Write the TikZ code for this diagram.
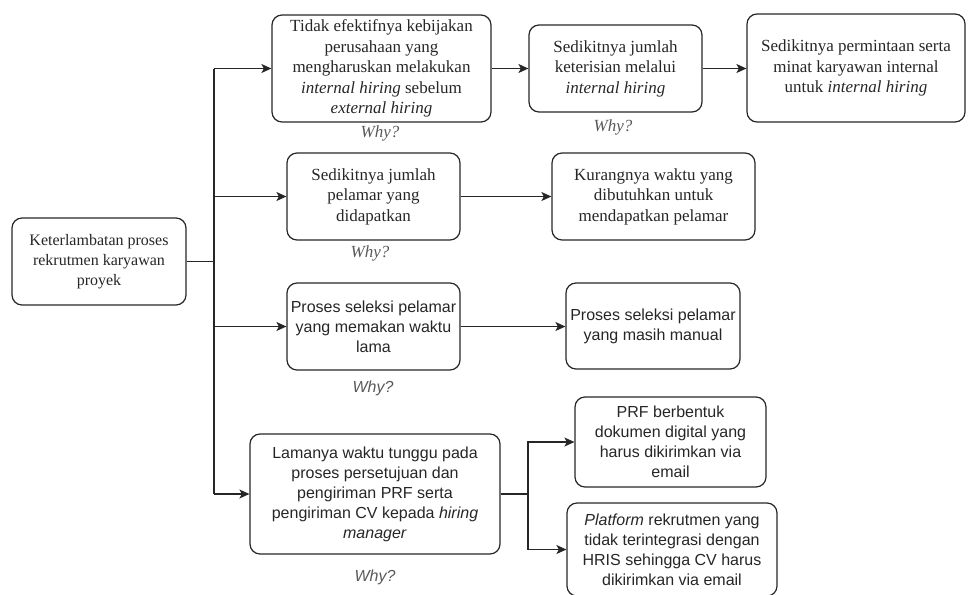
\documentclass[tikz,border=0pt]{standalone}
\usepackage{fontspec}
\setmainfont{Liberation Serif}
\setsansfont{Liberation Sans}
\usetikzlibrary{arrows.meta}
\newcommand\myfsr{\fontsize{17}{20.5}\selectfont}
\newcommand\myfsroot{\fontsize{16}{20}\selectfont}
\newcommand\myfss{\fontsize{16}{20}\selectfont}
\begin{document}
\begin{tikzpicture}[x=1pt,y=-1pt,
  box/.style={draw=black!85, rounded corners=10pt, line width=1.2pt, align=center, inner sep=0pt, text=black!85},
  sbox/.style={box, font=\myfsr\rmfamily},
  abox/.style={box, font=\myfss\sffamily},
  whyr/.style={font=\myfsr\rmfamily\itshape, text=black!65},
  whys/.style={font=\myfss\sffamily\itshape, text=black!65},
  conn/.style={line width=1.3pt, draw=black!85},
  arr/.style={conn, -{Stealth[length=10pt,width=9pt,inset=2.5pt]}}]
\useasboundingbox (0,0) rectangle (968,594);

\node[sbox, font=\myfsroot\rmfamily, minimum width=174pt, minimum height=87pt] (root) at (99,261.5)
  {Keterlambatan proses\\rekrutmen karyawan\\proyek};

\node[sbox, minimum width=219pt, minimum height=107pt] (A) at (381.5,68.5)
  {Tidak efektifnya kebijakan\\perusahaan yang\\mengharuskan melakukan\\\textit{internal hiring} sebelum\\\textit{external hiring}};
\node[sbox, minimum width=173pt, minimum height=87pt] (B) at (615.5,68.5)
  {Sedikitnya jumlah\\keterisian melalui\\\textit{internal hiring}};
\node[sbox, minimum width=218pt, minimum height=108pt] (C) at (856,68)
  {Sedikitnya permintaan serta\\minat karyawan internal\\untuk \textit{internal hiring}};

\node[sbox, minimum width=173pt, minimum height=87pt] (D) at (373.5,196.5)
  {Sedikitnya jumlah\\pelamar yang\\didapatkan};
\node[sbox, minimum width=203pt, minimum height=87pt] (E) at (653.5,196.5)
  {Kurangnya waktu yang\\dibutuhkan untuk\\mendapatkan pelamar};

\node[abox, minimum width=173pt, minimum height=87pt] (F) at (373.5,326.5)
  {Proses seleksi pelamar\\yang memakan waktu\\lama};
\node[abox, minimum width=174pt, minimum height=86pt] (G) at (653,326)
  {Proses seleksi pelamar\\yang masih manual};

\node[abox, minimum width=250pt, minimum height=120pt] (H) at (375,494)
  {Lamanya waktu tunggu pada\\proses persetujuan dan\\pengiriman PRF serta\\pengiriman CV kepada \textit{hiring}\\\textit{manager}};
\node[abox, minimum width=191pt, minimum height=90pt] (I) at (670.5,442)
  {PRF berbentuk\\dokumen digital yang\\harus dikirimkan via\\email};
\node[abox, minimum width=210pt, minimum height=93pt] (J) at (672,549.5)
  {\textit{Platform} rekrutmen yang\\tidak terintegrasi dengan\\HRIS sehingga CV harus\\dikirimkan via email};

\node[whyr] (wA) at (380,133) {Why?};
\node[whyr] (wB) at (613,127) {Why?};
\node[whyr] (wD) at (370,253) {Why?};
\node[whys] (wF) at (373,388) {Why?};
\node[whys] (wH) at (375,577) {Why?};

\coordinate (bus) at (214,261.5);
\coordinate (sp) at (528,494);

\draw[conn] (root.east) -- (bus);
\draw[conn] (bus |- A.west) -- (bus |- H.west);
\draw[arr] (bus |- A.west) -- (A.west);
\draw[arr] (bus |- D.west) -- (D.west);
\draw[arr] (bus |- F.west) -- (F.west);
\draw[arr] (bus |- H.west) -- (H.west);

\draw[arr] (A.east) -- (B.west);
\draw[arr] (B.east) -- (C.west |- B.east);
\draw[arr] (D.east) -- (E.west);
\draw[arr] (F.east) -- (G.west |- F.east);

\draw[conn] (H.east) -- (sp);
\draw[arr] (sp) |- (I.west);
\draw[arr] (sp) |- (J.west);
\end{tikzpicture}
\end{document}
